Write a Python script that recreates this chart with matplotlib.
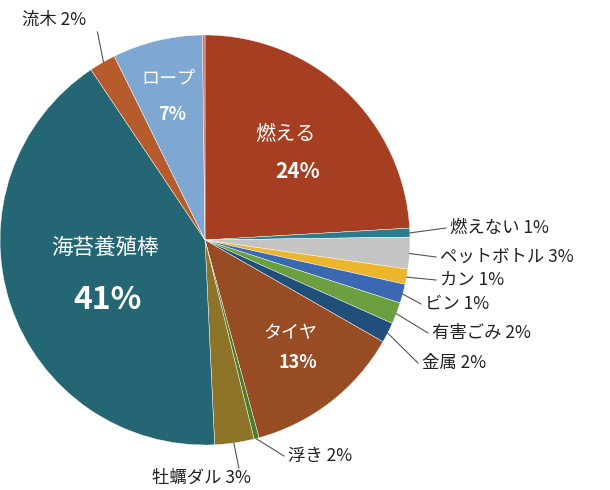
import numpy as np
import matplotlib
matplotlib.use("Agg")
import matplotlib.pyplot as plt

plt.rcParams['font.family'] = ['Noto Sans CJK JP', 'DejaVu Sans']

names = ["燃える", "燃えない", "ペットボトル", "カン", "ビン", "有害ごみ", "金属", "タイヤ",
         "浮き", "牡蠣ダル", "海苔養殖棒", "流木", "ロープ", "その他"]
labels = ["24%", "1%", "3%", "1%", "1%", "2%", "2%", "13%", "2%", "3%", "41%", "2%", "7%", ""]
values = [24.1, 0.7, 2.5, 1.2, 1.5, 1.7, 1.6, 12.5, 0.4, 3.1, 41.4, 2.1, 7.1, 0.2]
colors = ["#A63F22", "#2C7C8F", "#C4C4C4", "#EDB52C", "#3A68B2", "#6C9F40", "#1F4F7A", "#974C24",
          "#4F7B2B", "#8E7428", "#246674", "#B65B2B", "#7EA8D1", "#C87272"]

fig = plt.figure(figsize=(6.1, 4.9), dpi=100)
ax = fig.add_axes([0, 0, 1, 1])

cx, cy, r = 205, 250, 205
ax.pie(values, colors=colors, startangle=90, counterclock=False,
       center=(cx, cy), radius=r, frame=True,
       wedgeprops=dict(linewidth=0.3, edgecolor='white'))
ax.set_xlim(0, 610)
ax.set_ylim(0, 490)
ax.set_aspect('equal')
ax.axis('off')

def P(y):
    return 490 - y

# inside labels: name x, y, pct x, y, name size, pct size
inside = {0: (285, 135, 298, 172, 14.5, 15), 12: (168, 78, 172, 115, 13, 13),
          10: (105, 248, 108, 300, 15.5, 23), 7: (290, 333, 298, 362, 13, 13)}
for i, (x1, y1, x2, y2, s1, s2) in inside.items():
    ax.text(x1, P(y1), names[i], color='white', fontsize=s1, ha='center', va='center')
    ax.text(x2, P(y2), labels[i], color='white', fontsize=s2, fontweight='bold',
            ha='center', va='center')

# outside labels with leader lines
cum = np.cumsum([0] + values)
outside = {1: (450, 228), 2: (440, 257), 3: (440, 280), 4: (425, 304), 5: (432, 333),
           6: (422, 363), 8: (288, 456), 9: (152, 478), 11: (22, 20)}
for i, (tx, ty) in outside.items():
    mid = (cum[i] + cum[i + 1]) / 2 / 100 * 2 * np.pi
    ex, ey = cx + r * np.sin(mid), cy + r * np.cos(mid)
    if i == 11:
        lx, ly = ex - 6, P(ty) - 12
    elif i == 9:
        lx, ly = ex + 5, P(ty) + 10
    else:
        lx, ly = tx - 4, P(ty)
    ax.plot([ex, lx], [ey, ly], color='#555555', lw=0.8)
    ax.text(tx, P(ty), f"{names[i]} {labels[i]}", fontsize=12.5, color='#222222',
            ha='left', va='center')

fig.savefig("out.png", dpi=100)
